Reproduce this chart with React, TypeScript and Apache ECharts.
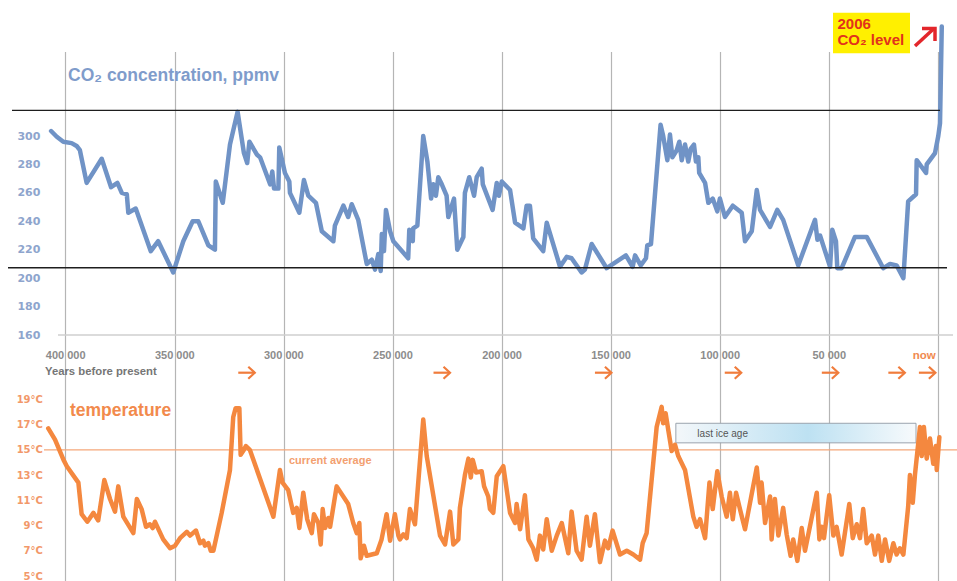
import React, { useEffect, useRef } from "react";
import * as echarts from "echarts";

// thousands of years before present (left = old, right = now)
const co2Kyr = [406.7,404.1,401.1,397.3,395.0,393.5,390.4,383.5,379.2,376.3,374.3,372.0,371.3,367.9,361.0,357.6,350.7,346.1,341.8,339.2,334.6,331.6,331.2,328.0,324.7,321.2,318.3,316.8,315.8,312.4,310.9,306.3,305.3,304.5,302.5,302.1,299.5,297.5,297.2,292.9,290.8,288.8,285.3,282.6,277.3,276.6,272.7,270.5,268.9,265.9,262.0,259.7,258.2,256.7,255.6,255.1,254.1,253.2,251.3,249.8,243.0,242.5,240.9,240.7,238.8,236.1,234.2,232.5,231.5,230.3,229.2,227.6,225.4,224.6,222.0,220.5,217.7,217.0,215.0,212.8,211.6,209.3,208.8,204.3,202.4,201.4,200.1,196.3,194.0,190.2,188.7,187.2,185.7,181.1,179.5,173.4,170.3,168.1,163.5,162.0,158.9,152.0,143.2,140.1,139.0,136.4,134.0,133.4,131.7,127.3,126.1,124.2,123.0,121.9,119.9,118.7,117.6,116.1,114.6,113.5,112.0,111.1,110.0,109.6,106.9,105.4,103.4,101.3,100.1,97.8,94.2,91.7,90.1,88.6,85.5,83.2,81.7,77.1,73.8,71.1,64.2,56.5,55.4,54.2,49.6,48.6,46.9,46.3,44.3,38.2,32.8,25.2,22.1,19.1,16.0,13.8,10.2,9.9,5.6,5.3,1.5,0,-0.8,-1.6];
const co2Ppm = [303.5,299.5,296,295,293,290,267,284,264,267,260,259,246,249,219,226,204,226,240,240,223,220,268,253,294,317,288,281,296,287,285,266,275,263,263,292,274,268,260,246,269,258,253,233,226,237,251,243,252,241,210,213,206,217,205,231,219,248,233,226,214,234,226,235,237,300,282,256,266,258,271,266,258,243,256,220,229,260,271,258,271,277,266,248,267,258,268,262,239,235,251,251,228,219,239,208,215,214,204,206,224,207,216,208,216,209,214,223,224,308,300,283,301,285,290,296,283,294,282,291,294,282,285,274,267,253,256,247,256,243,251,248,246,226,233,262,248,236,248,241,209,241,227,230,208,234,226,207,207,229,229,207,210,209,200,254,259,283,274,280,288,300,309,377];

const tempKyr = [408.0,404.9,401.0,399.5,394.2,392.7,390.1,387.3,385.1,382.3,379.7,377.4,375.9,373.6,369.0,367.4,365.2,363.2,361.4,360.1,359.1,355.3,352.2,349.9,347.6,344.5,343.0,340.3,338.4,336.9,336.2,334.6,333.5,332.3,328.5,324.7,323.2,322.1,320.4,319.8,318.3,317.4,315.6,304.8,301.8,300.6,298.0,295.7,294.1,292.9,291.1,289.3,287.2,286.2,284.2,283.1,282.2,281.1,279.6,278.8,275.8,270.5,268.2,266.6,265.4,264.8,263.3,262.0,257.4,255.2,252.9,251.3,249.1,247.5,246.8,245.2,243.7,242.2,239.9,236.1,234.5,228.4,226.1,223.8,222.3,220.0,219.3,217.0,215.4,214.3,213.4,211.9,209.3,208.2,206.3,205.5,204.0,202.4,199.4,196.3,194.0,193.3,191.7,189.5,187.9,185.7,184.1,182.6,181.1,179.5,177.2,174.9,172.6,169.6,168.1,165.8,163.5,161.2,159.7,157.4,155.1,152.8,151.3,149.3,145.9,142.8,139.8,136.7,135.5,133.7,129.1,126.8,126.1,125.0,123.8,122.2,120.7,119.2,116.1,112.3,110.8,109.2,106.9,104.9,103.4,101.3,99.3,97.0,95.5,94.2,92.7,91.2,88.6,86.3,83.2,81.7,81.0,79.4,77.1,76.4,74.9,73.3,71.1,69.5,67.7,66.5,64.6,62.6,61.1,55.7,54.5,53.5,52.4,50.0,48.1,46.6,44.3,40.8,39.2,37.4,35.9,34.4,32.8,30.5,29.0,27.5,25.9,24.4,22.5,20.6,19.1,17.6,16.0,13.8,13.0,11.7,10.7,8.4,7.6,6.6,5.3,3.8,2.3,1.1,0.7,-0.5];
const tempC = [16.7,15.8,14.2,13.7,12.4,9.9,9.3,10.0,9.4,12.6,11.1,10.1,12.1,9.7,8.4,11.1,10.3,8.9,9.1,8.8,9.3,7.9,7.2,7.4,8.0,8.5,8.2,8.6,7.6,7.8,7.4,7.6,7.0,7.0,10.0,13.4,17.6,18.3,18.3,14.6,15.0,15.3,15.0,9.7,13.4,12.4,11.8,10.0,10.4,8.8,11.6,9.5,8.4,9.9,9.2,7.5,10.3,8.8,9.6,8.9,12.1,10.7,9.2,8.4,9.2,6.4,7.4,6.6,6.8,7.9,9.9,7.8,9.9,8.2,7.9,8.3,8.0,10.3,9.1,17.4,14.5,8.2,7.5,10.1,7.5,7.9,10.4,13.0,14.3,12.8,14.2,13.2,13.3,12.1,11.3,10.3,10.0,12.9,13.7,10.0,9.2,10.7,8.7,11.4,7.9,7.2,6.3,8.2,7.1,9.5,7.0,8.2,9.2,6.8,10.1,7.0,6.3,9.7,7.4,9.9,6.1,7.8,7.2,8.6,6.7,7.0,6.7,6.3,7.6,8.4,16.8,18.4,17.1,17.9,16.6,14.9,15.4,14.5,13.4,9.7,8.9,9.5,8.0,12.4,10.3,13.3,11.3,9.7,11.6,9.5,11.6,10.5,8.7,10.8,13.6,10.8,12.4,9.2,11.3,7.9,11.1,8.2,10.4,8.3,6.6,7.9,6.2,8.8,7.0,11.6,7.9,8.9,8.0,11.4,8.2,8.9,6.7,10.7,8.0,9.1,8.0,10.3,7.6,8.2,6.7,8.2,6.2,7.9,6.2,7.6,6.7,7.2,6.7,10.5,13.0,10.8,13.0,16.8,14.5,16.8,14.3,15.9,13.9,15.3,13.4,16.0];

const co2Ticks = [160, 180, 200, 220, 240, 260, 280, 300];
const tempTicks = [5, 7, 9, 11, 13, 15, 17, 19];
const yearTicks = [400, 350, 300, 250, 200, 150, 100, 50, 0];
const refLevels = [318.1, 207.3]; // black reference lines (ppmv)
const currentAverage = 15;
const iceAge = { name: "last ice age", from: 120.3, to: 10.2, top: 17.1, bottom: 15.55 };
const arrowYears = [317, 227.5, 153.5, 94, 49.5, 19, 5];

const FONT = "'Liberation Sans', Arial, sans-serif";
const BLUE = "#7093c6";
const ORANGE = "#f4883f";

export default function App() {
  const ref = useRef<HTMLDivElement>(null);
  useEffect(() => {
    const chart = echarts.init(ref.current!, null, { renderer: "svg" });
    const co2Data = co2Kyr.map((k, i) => [k, co2Ppm[i]]);
    const tempData = tempKyr.map((k, i) => [k, tempC[i]]);
    const hiddenX = { type: "value", min: -4, max: 410, inverse: true, show: false };
    chart.setOption({
      animation: false,
      textStyle: { fontFamily: FONT },
      grid: [
        { left: 43.9, right: 10, top: 22.3, bottom: 246 },
        { left: 43.9, right: 10, top: 399.3, bottom: 4.3 },
        { left: 65.7, right: 18.7, top: 52, bottom: 0 },
        { left: 65.7, right: 18.7, top: 0, bottom: 226 },
      ],
      xAxis: [
        { ...hiddenX, gridIndex: 0 },
        { ...hiddenX, gridIndex: 1 },
        {
          gridIndex: 2, type: "value", min: 0, max: 400, interval: 50, inverse: true,
          axisLine: { show: false }, axisTick: { show: false }, axisLabel: { show: false },
          splitLine: { show: true, lineStyle: { color: "#b5b5b5", width: 1.2 } },
        },
        {
          gridIndex: 3, type: "value", min: 0, max: 400, interval: 50, inverse: true,
          axisLine: { show: false }, axisTick: { show: false }, splitLine: { show: false },
          axisLabel: {
            margin: 0, verticalAlign: "middle", showMinLabel: true, showMaxLabel: true,
            color: "#8c8c8c", fontWeight: "bold", fontSize: 11, fontFamily: FONT,
            formatter: (v: number) => (yearTicks.includes(v) ? (v === 0 ? "{now|now}" : `${v} 000`) : ""),
            rich: { now: { color: "#f08a50", fontWeight: "bold", fontSize: 11.5, fontFamily: FONT, padding: [0, 28, 0, 0] } },
          },
        },
      ],
      yAxis: [
        {
          gridIndex: 0, type: "value", min: 160, max: 380, interval: 20,
          axisLine: { show: false }, axisTick: { show: false }, splitLine: { show: false },
          axisLabel: {
            margin: 3.5, color: "#8ea5cd", fontWeight: "bold", fontSize: 11, fontFamily: "'DejaVu Sans', sans-serif",
            formatter: (v: number) => (co2Ticks.includes(v) ? String(v) : ""),
          },
        },
        {
          gridIndex: 1, type: "value", min: 5, max: 19, interval: 2,
          axisLine: { show: false }, axisTick: { show: false }, splitLine: { show: false },
          axisLabel: {
            margin: 1, color: "#f2986a", fontWeight: "bold", fontSize: 10, fontFamily: "'DejaVu Sans', sans-serif",
            formatter: (v: number) => (tempTicks.includes(v) ? `${v}°C` : ""),
          },
        },
        { gridIndex: 2, type: "value", min: 0, max: 1, show: false },
        { gridIndex: 3, type: "value", min: 0, max: 1, show: false },
      ],
      series: [
        {
          type: "line", xAxisIndex: 0, yAxisIndex: 0, data: co2Data, symbol: "none", z: 4,
          lineStyle: { color: BLUE, width: 4.5, join: "round", cap: "round" },
        },
        {
          type: "line", xAxisIndex: 1, yAxisIndex: 1, data: tempData, symbol: "none", z: 4,
          lineStyle: { color: ORANGE, width: 4.5, join: "round", cap: "round" },
          markArea: {
            silent: true,
            itemStyle: {
              color: {
                type: "linear", x: 0, y: 0, x2: 1, y2: 0,
                colorStops: [
                  { offset: 0, color: "#f3f7fa" },
                  { offset: 0.55, color: "#bde1f2" },
                  { offset: 1, color: "#f7fafc" },
                ],
              },
              borderColor: "#9aa3ad", borderWidth: 1,
            },
            label: { show: true, position: "insideLeft", offset: [17, 0], color: "#555", fontSize: 10, fontFamily: FONT },
            data: [[
              { name: iceAge.name, xAxis: iceAge.from, yAxis: iceAge.top },
              { xAxis: iceAge.to, yAxis: iceAge.bottom },
            ]],
          },
        },
      ],
    });

    const yPx = (idx: number, v: number) => chart.convertToPixel({ yAxisIndex: idx } as any, v) as number;
    const xPx = (v: number) => chart.convertToPixel({ xAxisIndex: 2 } as any, v) as number;
    const graphics: any[] = [];
    const yTop = yPx(0, refLevels[0]);
    const yBot = yPx(0, refLevels[1]);
    graphics.push({ type: "line", z: 5, shape: { x1: 12, y1: yTop, x2: 940, y2: yTop }, style: { stroke: "#1e1e1e", lineWidth: 1.3 } });
    graphics.push({ type: "line", z: 5, shape: { x1: 8, y1: yBot, x2: 947, y2: yBot }, style: { stroke: "#1e1e1e", lineWidth: 1.3 } });
    const yBase = yPx(0, 160);
    graphics.push({ type: "line", z: 1, shape: { x1: 58, y1: yBase, x2: 953, y2: yBase }, style: { stroke: "#cfcfcf", lineWidth: 1.5 } });
    const yAvg = yPx(1, currentAverage);
    graphics.push({ type: "line", z: 2, shape: { x1: 44, y1: yAvg, x2: 957, y2: yAvg }, style: { stroke: "#f5a77a", lineWidth: 1.3 } });
    graphics.push({ type: "text", z: 6, x: 289, y: yAvg + 10, style: { text: "current average", fill: "#f3a070", font: `bold 11px ${FONT}`, verticalAlign: "middle" } });
    graphics.push({ type: "text", z: 6, x: 68, y: 75, style: { text: "CO₂ concentration, ppmv", fill: "#7f9ccb", font: `bold 17.5px ${FONT}`, verticalAlign: "middle" } });
    graphics.push({ type: "text", z: 6, x: 70, y: 410, style: { text: "temperature", fill: "#f28a4c", font: `bold 17.5px ${FONT}`, verticalAlign: "middle" } });
    graphics.push({ type: "text", z: 6, x: 45, y: 370.7, style: { text: "Years before present", fill: "#767676", font: `bold 11.3px ${FONT}`, verticalAlign: "middle" } });
    arrowYears.forEach((yr) => {
      const cx = xPx(yr);
      const cy = 372.7;
      graphics.push({ type: "line", z: 6, shape: { x1: cx - 8.5, y1: cy, x2: cx + 7.5, y2: cy }, style: { stroke: "#f07c3c", lineWidth: 2.2 } });
      graphics.push({ type: "polyline", z: 6, shape: { points: [[cx + 1.5, cy - 6], [cx + 8, cy], [cx + 1.5, cy + 6]] }, style: { stroke: "#f07c3c", lineWidth: 2.2, fill: null } });
    });
    // 2006 CO2 level annotation
    graphics.push({ type: "rect", z: 6, shape: { x: 833, y: 12.7, width: 77, height: 40.6 }, style: { fill: "#fff000" } });
    graphics.push({ type: "text", z: 7, x: 837.5, y: 15, style: { text: "2006\nCO₂ level", fill: "#e2321c", font: `bold 15px ${FONT}`, lineHeight: 16 } });
    graphics.push({ type: "line", z: 7, shape: { x1: 915, y1: 46, x2: 934, y2: 28.5 }, style: { stroke: "#e3262b", lineWidth: 3.5 } });
    graphics.push({ type: "polyline", z: 7, shape: { points: [[922, 28.5], [935, 28.5], [935, 41]] }, style: { stroke: "#e3262b", lineWidth: 3.5, fill: null } });
    chart.setOption({ graphic: graphics });

    return () => chart.dispose();
  }, []);
  return <div ref={ref} style={{ position: "fixed", left: 0, top: 0, width: 957, height: 581, background: "#fff" }} />;
}
